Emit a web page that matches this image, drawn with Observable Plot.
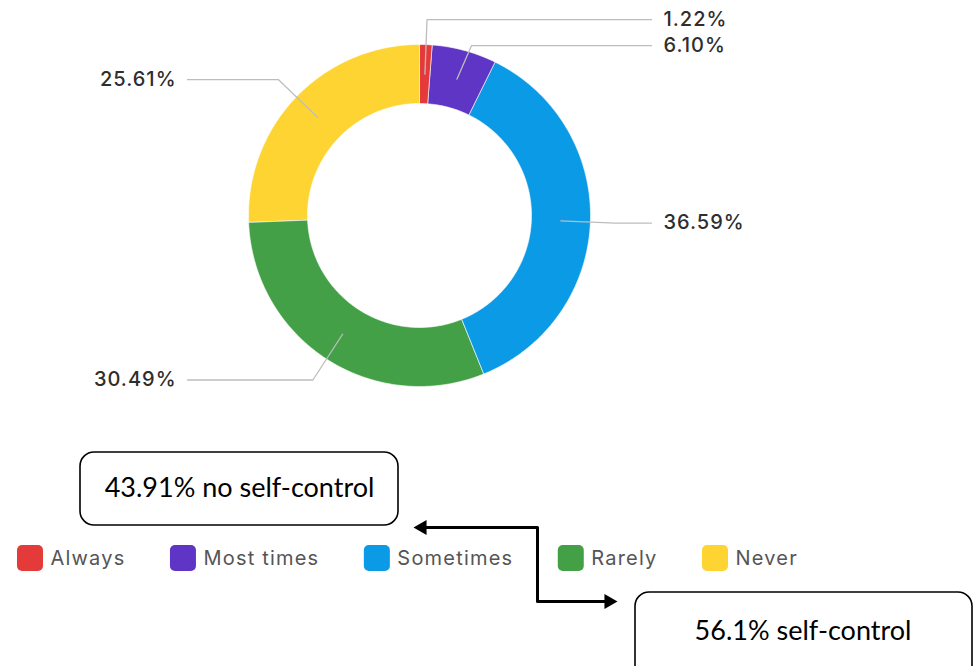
<!DOCTYPE html>
<html><head><meta charset="utf-8">
<script src="https://cdn.jsdelivr.net/npm/d3@7"></script>
<script src="https://cdn.jsdelivr.net/npm/@observablehq/plot@0.6"></script>
<style>
html,body{margin:0;padding:0;background:#fff;}
#chart svg{display:block;}
</style>
</head><body><div id="chart"></div>
<script>
// ---- data ----
const categories = ["Always", "Most times", "Sometimes", "Rarely", "Never"];
const values = [1.22, 6.10, 36.59, 30.49, 25.61];
const valueLabels = ["1.22%", "6.10%", "36.59%", "30.49%", "25.61%"];
const colors = ["#e53a3a", "#5e35c4", "#0b9ae6", "#43a047", "#fdd431"];
const summaryLabels = ["43.91% no self-control", "56.1% self-control"];

// ---- layout ----
const W = 976, H = 666;
const cx = 419, cy = 215, R = 171, r0 = 112;
const rElbow = 196, colOff = R + 61, minGap = 26, textGap = 12;
const pctLS = 1, legendLS = 1.2, legendFont = 20;

const data = categories.map((c, i) => ({cat: c, value: values[i], label: valueLabels[i]}));
const arcs = d3.pie().sort(null).value(d => d.value)(data);

// donut polygons
const ring = [];
arcs.forEach(a => {
  const n = Math.max(4, Math.ceil((a.endAngle - a.startAngle) / 0.01));
  for (let k = 0; k <= n; k++) {
    const t = a.startAngle + (a.endAngle - a.startAngle) * k / n;
    ring.push({cat: a.data.cat, x: cx + R * Math.sin(t), y: cy - R * Math.cos(t)});
  }
  for (let k = n; k >= 0; k--) {
    const t = a.startAngle + (a.endAngle - a.startAngle) * k / n;
    ring.push({cat: a.data.cat, x: cx + r0 * Math.sin(t), y: cy - r0 * Math.cos(t)});
  }
});

// leader lines
const rMid = (R + r0) / 2;
const leaders = arcs.map(a => {
  const m = (a.startAngle + a.endAngle) / 2;
  return {cat: a.data.cat, label: a.data.label, m, side: Math.sin(m) >= 0 ? 1 : -1,
    ax: cx + rMid * Math.sin(m), ay: cy - rMid * Math.cos(m),
    ex: cx + rElbow * Math.sin(m), ey: cy - rElbow * Math.cos(m)};
});
[1, -1].forEach(s => {
  const g = leaders.filter(d => d.side === s).sort((a, b) => a.ey - b.ey);
  for (let i = 1; i < g.length; i++) if (g[i].ey < g[i - 1].ey + minGap) g[i].ey = g[i - 1].ey + minGap;
});
const leaderPts = [];
leaders.forEach(d => {
  d.lx = cx + d.side * colOff;
  d.tx = cx + d.side * (colOff + textGap) + (d.side < 0 ? pctLS : 0);
  leaderPts.push({cat: d.cat, x: d.ax, y: d.ay}, {cat: d.cat, x: d.ex, y: d.ey}, {cat: d.cat, x: d.lx, y: d.ey});
});

// legend layout (measured)
const ctx = document.createElement("canvas").getContext("2d");
ctx.font = legendFont + "px Inter";
const legendY = 558, sw = 26, swGap = 7, itemGap = 45;
let lx = 17;
const legend = categories.map(c => {
  const w = ctx.measureText(c).width + legendLS * c.length;
  const item = {cat: c, x1: lx, x2: lx + sw, y1: legendY - 13, y2: legendY + 13, tx: lx + sw + swGap, ty: legendY};
  lx += sw + swGap + w + itemGap;
  return item;
});

// annotation boxes and connector
const boxes = [
  {x1: 80, x2: 398, y1: 452, y2: 525, text: summaryLabels[0]},
  {x1: 635, x2: 972, y1: 592, y2: 700, text: summaryLabels[1]}
];
boxes[0].tx = (boxes[0].x1 + boxes[0].x2) / 2; boxes[0].ty = 488;
boxes[1].tx = (boxes[1].x1 + boxes[1].x2) / 2 - 1; boxes[1].ty = 631;
const arrowX = 537, arrowY1 = 527, arrowY2 = 601, tipL = 413, tipR = 617, headOff = 8.7;
const connector = [
  {x: tipL + headOff, y: arrowY1}, {x: arrowX, y: arrowY1},
  {x: arrowX, y: arrowY2}, {x: tipR - headOff, y: arrowY2}
];
const heads = [
  {x: tipL + headOff, y: arrowY1, rot: -90},
  {x: tipR - headOff, y: arrowY2, rot: 90}
];

const chart = Plot.plot({
  width: W, height: H, margin: 0,
  x: {type: "identity", axis: null},
  y: {type: "identity", axis: null},
  color: {domain: categories, range: colors},
  marks: [
    Plot.line(ring, {x: "x", y: "y", z: "cat", fill: "cat", stroke: "white", strokeWidth: 0.6, curve: "linear-closed"}),
    Plot.line(leaderPts, {x: "x", y: "y", z: "cat", stroke: "#bdbdbd", strokeWidth: 1.3}),
    Plot.text(leaders.filter(d => d.side > 0), {x: "tx", y: "ey", text: "label", textAnchor: "start", fontFamily: "Inter", fontWeight: 500, fontSize: 20, fill: "#2e2e2e"}),
    Plot.text(leaders.filter(d => d.side < 0), {x: "tx", y: "ey", text: "label", textAnchor: "end", fontFamily: "Inter", fontWeight: 500, fontSize: 20, fill: "#2e2e2e"}),
    Plot.rect(legend, {x1: "x1", x2: "x2", y1: "y1", y2: "y2", fill: "cat", rx: 5}),
    Plot.text(legend, {x: "tx", y: "ty", text: "cat", textAnchor: "start", fontFamily: "Inter", fontSize: legendFont, fill: "#555"}),
    Plot.rect(boxes, {x1: "x1", x2: "x2", y1: "y1", y2: "y2", rx: 14, fill: "white", stroke: "black", strokeWidth: 1.6}),
    Plot.text(boxes, {x: "tx", y: "ty", text: "text", fontFamily: "Lato", fontSize: 27, fill: "#000"}),
    Plot.line(connector, {x: "x", y: "y", stroke: "black", strokeWidth: 3}),
    Plot.dot(heads, {x: "x", y: "y", symbol: "triangle", r: 5.6, rotate: "rot", fill: "black", stroke: "none"})
  ]
});
// letter spacing for percentage labels and legend entries
d3.select(chart).selectAll("text").each(function () {
  const t = this.textContent;
  if (valueLabels.includes(t)) this.style.letterSpacing = pctLS + "px";
  else if (categories.includes(t)) this.style.letterSpacing = legendLS + "px";
});
document.getElementById("chart").appendChild(chart);
</script>
</body></html>
